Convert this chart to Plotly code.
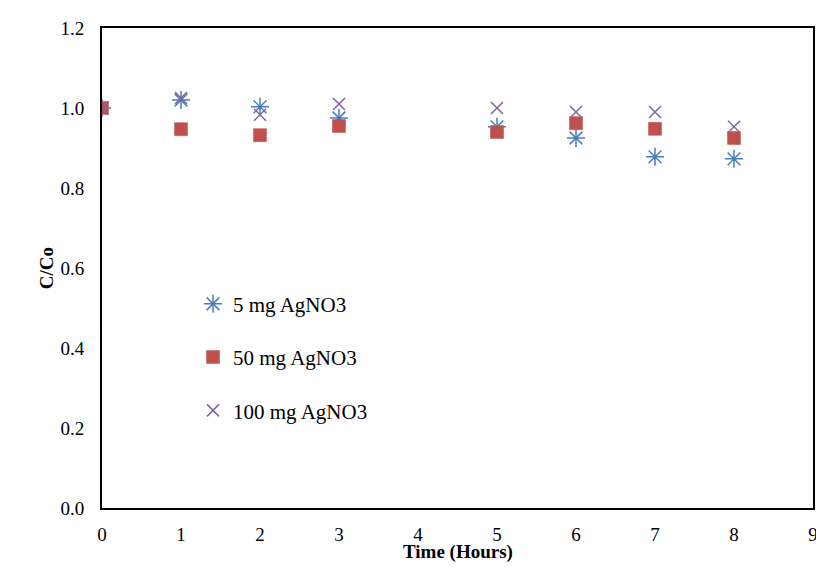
import plotly.graph_objects as go

time = [0, 1, 2, 3, 5, 6, 7, 8]
s5 = [1.0, 1.02, 1.003, 0.975, 0.953, 0.925, 0.878, 0.873]
s50 = [1.0, 0.947, 0.932, 0.955, 0.94, 0.962, 0.948, 0.925]
s100 = [1.0, 1.025, 0.983, 1.01, 1.0, 0.99, 0.99, 0.953]
names = ["5 mg AgNO3", "50 mg AgNO3", "100 mg AgNO3"]
x_title = "Time (Hours)"
y_title = "C/Co"

fig = go.Figure()
fig.add_trace(go.Scatter(x=time, y=s5, mode="markers", name=names[0], legendgroup="a",
                         marker=dict(symbol="asterisk-open", size=15, color="#4A7EBB",
                                     line=dict(width=1.5, color="#4A7EBB"))))
fig.add_trace(go.Scatter(x=time, y=s50, mode="markers", name=names[1], legendgroup="b",
                         marker=dict(symbol="square", size=13, color="#C0504D",
                                     line=dict(width=0.5, color="#C0504D"))))
fig.add_trace(go.Scatter(x=time, y=s100, mode="markers", name=names[2], legendgroup="c",
                         marker=dict(symbol="x-thin-open", size=12, color="#8064A2",
                                     line=dict(width=1.5, color="#8064A2"))))

font = "Liberation Serif, Times New Roman, serif"
fig.update_layout(
    width=808, height=555,
    margin=dict(l=94, r=1, t=20, b=55),
    paper_bgcolor="white", plot_bgcolor="white",
    font=dict(family=font, size=19, color="black"),
    showlegend=True,
    legend=dict(x=0.128, y=0.4675, xanchor="left", yanchor="top",
                bgcolor="rgba(0,0,0,0)", tracegroupgap=23,
                font=dict(family=font, size=21, color="black")),
    xaxis=dict(range=[0, 9], dtick=1, tick0=0, showgrid=False, zeroline=False,
               showline=True, linecolor="black", linewidth=2, mirror=True,
               ticks="outside", ticklen=8, tickcolor="rgba(0,0,0,0)", tickfont=dict(size=19),
               ticklabeloverflow="allow", automargin=False),
    yaxis=dict(range=[0, 1.2], dtick=0.2, tick0=0, tickformat=".1f", showgrid=False,
               zeroline=False, showline=True, linecolor="black", linewidth=2, mirror=True,
               ticks="outside", ticklen=12, tickcolor="rgba(0,0,0,0)", tickfont=dict(size=19),
               title=dict(text="<b>" + y_title + "</b>", font=dict(size=19), standoff=2)),
    annotations=[dict(text="<b>" + x_title + "</b>", xref="paper", yref="paper",
                      x=0.5, y=0, xanchor="center", yanchor="middle", yshift=-44,
                      showarrow=False, font=dict(family=font, size=19, color="black"))],
)
fig.write_html("out.html")
